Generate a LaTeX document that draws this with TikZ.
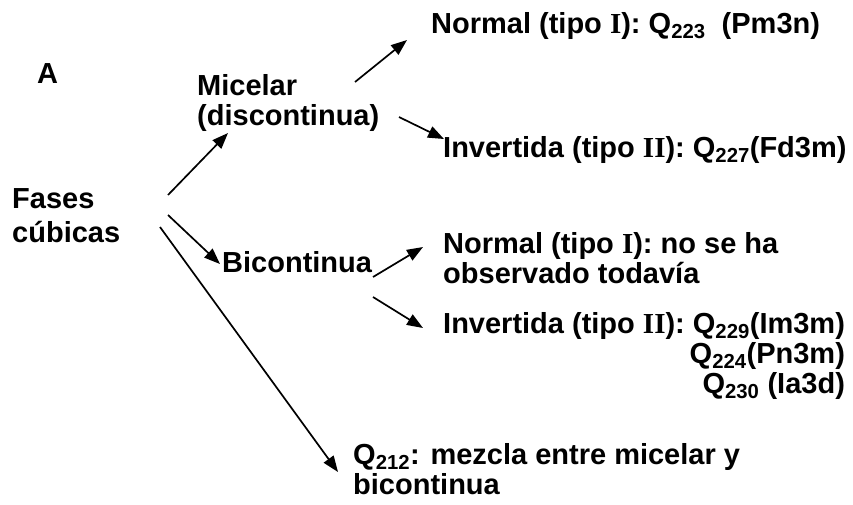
\documentclass[tikz,border=0pt]{standalone}
\usepackage{fontspec}
\setmainfont{Liberation Sans}
\newfontfamily\romfont{Liberation Serif}
\usetikzlibrary{arrows.meta}
\newcommand{\rmnum}[1]{{\romfont\bfseries #1}}
\begin{document}
\begin{tikzpicture}[x=1pt,y=-1pt,
  lbl/.style={inner sep=0pt, anchor=base west, align=left, font=\fontsize{29}{30}\selectfont\bfseries},
  arr/.style={-{Triangle[length=16pt,width=12pt]}, line width=1.7pt}]
\useasboundingbox (0,0) rectangle (853,504);
\fill[white] (0,0) rectangle (853,504);

\node[lbl] (A) at (37,83) {A};
\node[lbl, font=\fontsize{29}{34}\selectfont\bfseries] (fases) at (12,242) {Fases\\cúbicas};
\node[lbl] (micelar) at (197,125) {Micelar\\(discontinua)};
\node[lbl] (norm1) at (431,33) {Normal (tipo \rmnum{I}): Q\textsubscript{223}\ \ (Pm3n)};
\node[lbl] (inv1) at (443,157) {Invertida (tipo \rmnum{II}): Q\textsubscript{227}(Fd3m)};
\node[lbl] (bicont) at (222,272) {Bicontinua};
\node[lbl] (norm2) at (443,283) {Normal (tipo \rmnum{I}): no se ha\\observado todavía};
\node[lbl, align=right] (inv2) at (443,393) {Invertida (tipo \rmnum{II}): Q\textsubscript{229}(Im3m)\\Q\textsubscript{224}(Pn3m)\\Q\textsubscript{230} (Ia3d)};
\node[lbl] (q212) at (353,494) {Q\textsubscript{212}: mezcla entre micelar y\\bicontinua};

\coordinate (f1) at (168,195);
\coordinate (f2) at (168,215);
\coordinate (f3) at (160,227);
\coordinate (m1) at (355,82);
\coordinate (m2) at (399,117);
\coordinate (b1) at (373,277);
\coordinate (b2) at (373,297);
\coordinate (tm) at (228,133);
\coordinate (tb) at (220,264);
\coordinate (tq) at (338,472);
\coordinate (tn1) at (407,40);
\coordinate (ti1) at (444,139);
\coordinate (tn2) at (423,247);
\coordinate (ti2) at (423,328);

\draw[arr] (f1) -- (tm);
\draw[arr] (f2) -- (tb);
\draw[arr] (f3) -- (tq);
\draw[arr] (m1) -- (tn1);
\draw[arr] (m2) -- (ti1);
\draw[arr] (b1) -- (tn2);
\draw[arr] (b2) -- (ti2);
\end{tikzpicture}
\end{document}
